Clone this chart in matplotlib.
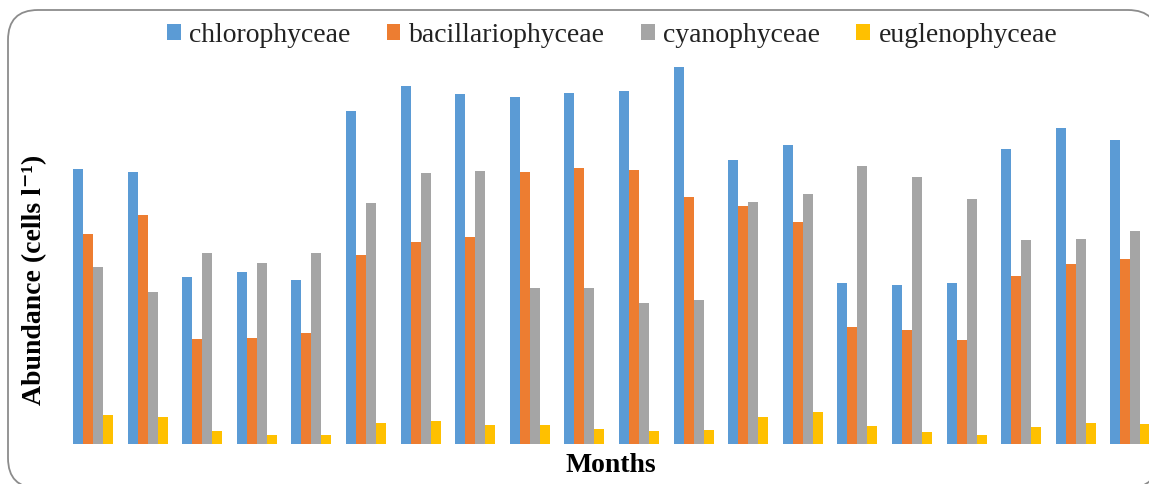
import numpy as np
import matplotlib.pyplot as plt
from matplotlib.patches import FancyBboxPatch

# Monthly abundance of the four algal classes (20 months)
months = np.arange(20)
chlorophyceae = [275, 272, 167, 172, 164, 333, 358, 350, 347, 351,
                 353, 377, 284, 299, 161, 159, 161, 295, 316, 304]
bacillariophyceae = [210, 229, 105, 106, 111, 189, 202, 207, 272, 276,
                     274, 247, 238, 222, 117, 114, 104, 168, 180, 185]
cyanophyceae = [177, 152, 191, 181, 191, 241, 271, 273, 156, 156,
                141, 144, 242, 250, 278, 267, 245, 204, 205, 213]
euglenophyceae = [29, 27, 13, 9, 9, 21, 23, 19, 19, 15,
                  13, 14, 27, 32, 18, 12, 9, 17, 21, 20]

series = [chlorophyceae, bacillariophyceae, cyanophyceae, euglenophyceae]
names = ['chlorophyceae', 'bacillariophyceae', 'cyanophyceae', 'euglenophyceae']
colors = ['#5B9BD5', '#ED7D31', '#A5A5A5', '#FFC000']

W, H = 1149, 484
fig = plt.figure(figsize=(W / 100, H / 100), dpi=100)

# rounded chart border drawn in pixel units on a background axes
bg = fig.add_axes([0, 0, 1, 1])
bg.set_xlim(0, W)
bg.set_ylim(0, H)
bg.axis('off')
bg.add_patch(FancyBboxPatch((8, -4), 1150, 478,
                            boxstyle='round,pad=0,rounding_size=30',
                            fc='white', ec='#8C8C8C', lw=1.3))

# plot area: left 65.7 px, baseline at 444 px, one data unit = one pixel
left, base, top = 65.7, 444, 50
ax = fig.add_axes([left / W, (H - base) / H, 1092 / W, (base - top) / H])
ax.set_xlim(-0.5, 19.5)
ax.set_ylim(0, base - top)
ax.patch.set_alpha(0)

bw = 0.183
for i, (vals, name, c) in enumerate(zip(series, names, colors)):
    ax.bar(months + (i - 1.5) * bw, vals, width=bw, color=c, label=name)

for s in ax.spines.values():
    s.set_visible(False)
ax.set_xticks([])
ax.set_yticks([])

serif = ['Liberation Serif', 'DejaVu Serif']
fig.text(35 / W, 1 - 280 / H, 'Abundance (cells l\u207b\u00b9)', rotation=90,
         ha='center', va='center', fontsize=20, fontweight='bold',
         family=serif)
fig.text(611 / W, 1 - 466 / H, 'Months', ha='center', va='center',
         fontsize=20, fontweight='bold', family=serif)

leg = ax.legend(loc='center', bbox_to_anchor=(612 / W, 1 - 35 / H),
                bbox_transform=fig.transFigure, ncol=4, frameon=False,
                handlelength=0.5, handleheight=0.5, handletextpad=0.3,
                columnspacing=1.3, prop={'family': serif, 'size': 20})
for t in leg.get_texts():
    t.set_color('#222222')

fig.savefig('out.png', dpi=100)
